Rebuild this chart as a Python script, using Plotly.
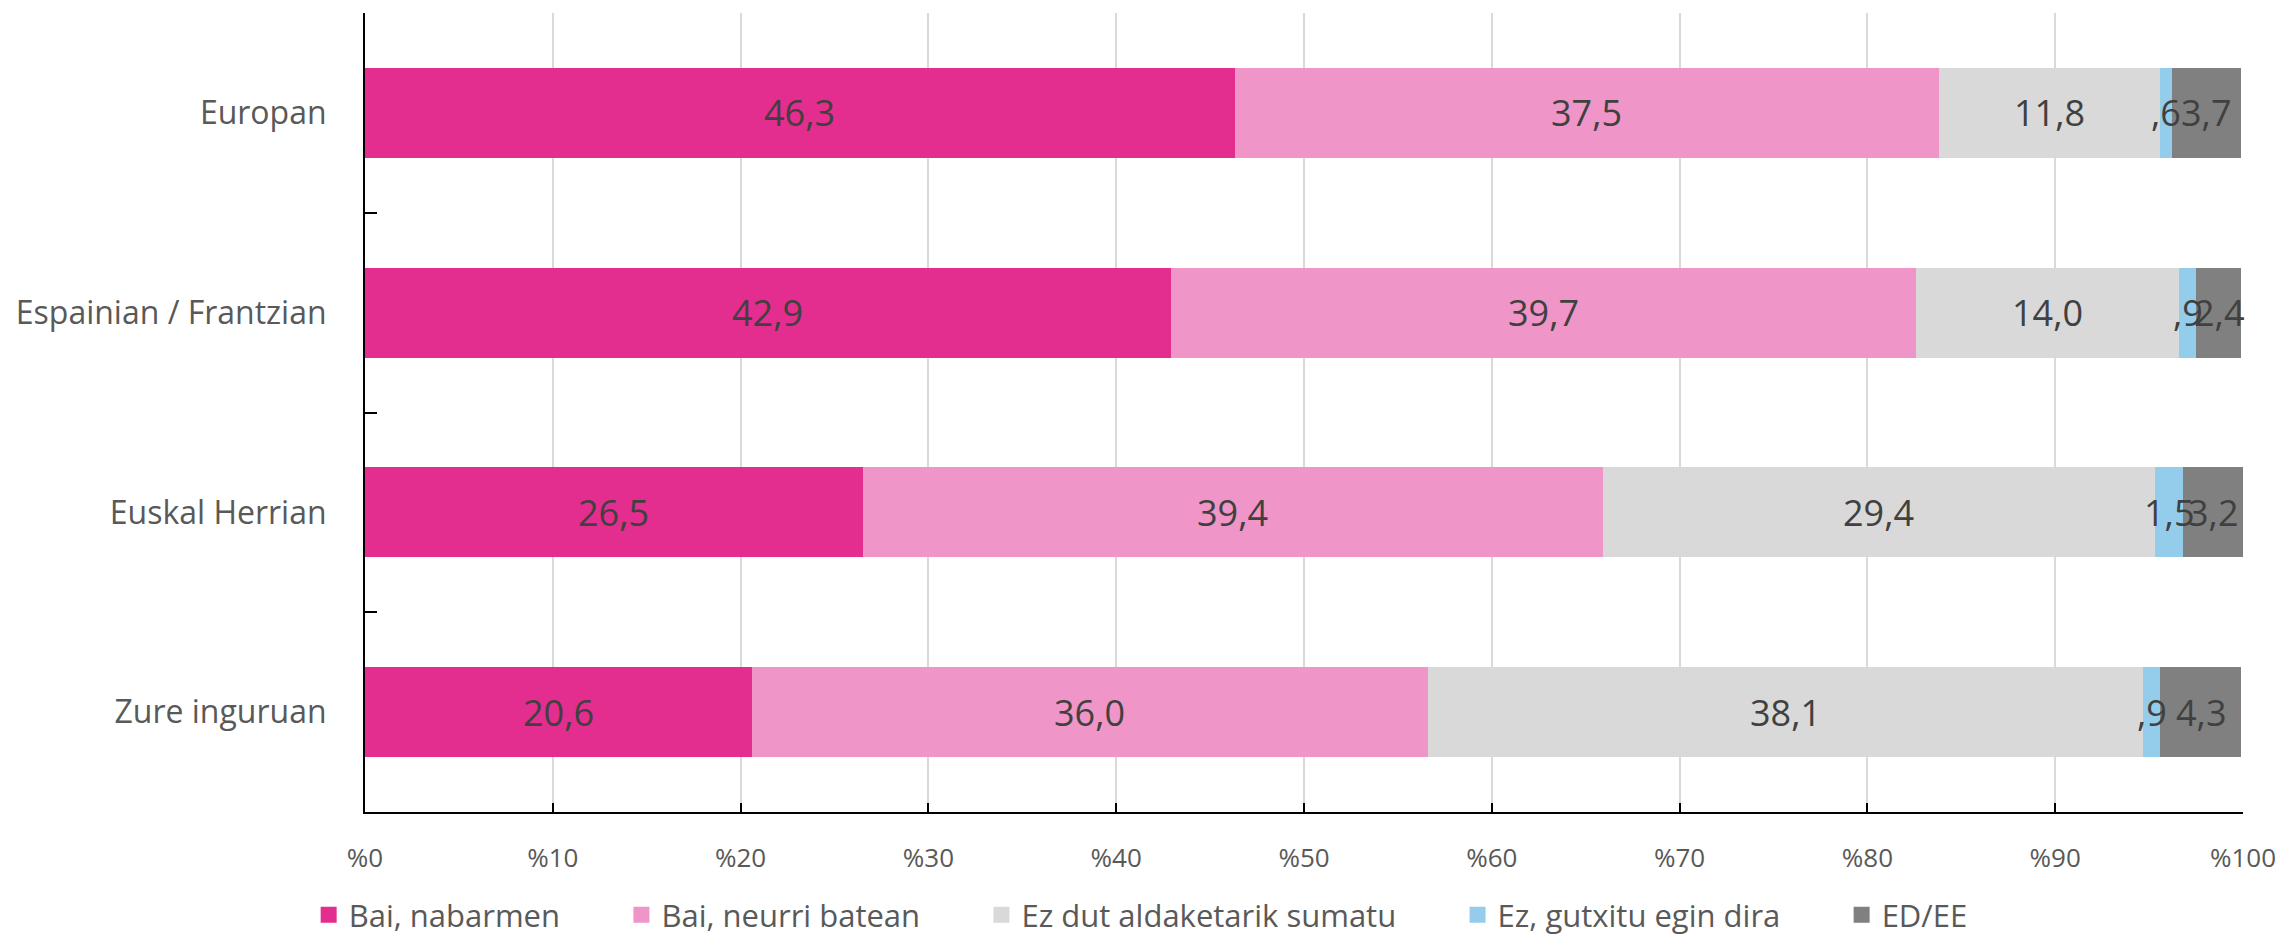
import plotly.graph_objects as go

# categories top to bottom
regions = ["Europan", "Espainian / Frantzian", "Euskal Herrian", "Zure inguruan"]

bai_nabarmen = [46.3, 42.9, 26.5, 20.6]
bai_neurri = [37.5, 39.7, 39.4, 36.0]
ez_aldaketa = [11.8, 14.0, 29.4, 38.1]
ez_gutxitu = [0.6, 0.9, 1.5, 0.9]
ed_ee = [3.7, 2.4, 3.2, 4.3]

series_names = ["Bai, nabarmen", "Bai, neurri batean", "Ez dut aldaketarik sumatu",
                "Ez, gutxitu egin dira", "ED/EE"]
colors = ["#E32D8F", "#F095C7", "#D9D9D9", "#93CDEB", "#808080"]

x_ticks = list(range(0, 101, 10))
x_labels = ["%" + str(t) for t in x_ticks]


def fmt(v):
    s = ("%.1f" % v).replace(".", ",")
    if s.startswith("0,"):
        s = s[1:]
    return s


font_main = "Open Sans"
pad = "\u00a0" * 7  # gap after each legend entry

fig = go.Figure()
all_series = [bai_nabarmen, bai_neurri, ez_aldaketa, ez_gutxitu, ed_ee]
for i, (name, vals, col) in enumerate(zip(series_names, all_series, colors)):
    fig.add_trace(go.Bar(
        y=regions, x=vals, name=name, orientation="h",
        marker=dict(color=col, line=dict(width=0)),
        hoverinfo="skip", showlegend=False,
    ))
    # legend-only entry so the swatch can be bigger
    fig.add_trace(go.Scatter(
        x=[None], y=[None], mode="markers",
        name=name + (pad if i < len(series_names) - 1 else ""),
        marker=dict(symbol="square", size=19, color=col),
        hoverinfo="skip",
    ))

# value labels centred in each segment, drawn on top of all bars
for j, reg in enumerate(regions):
    start = 0
    for vals in all_series:
        v = vals[j]
        fig.add_annotation(x=start + v / 2, y=reg, text=fmt(v), showarrow=False,
                           xref="x", yref="y",
                           font=dict(family=font_main, size=36, color="#404040"))
        start += v

# page body has an 8px margin, so the figure is a bit smaller than the window
fig.update_layout(
    barmode="stack", bargap=0.55,
    width=2277, height=931,
    margin=dict(l=357, r=42, t=5, b=127, autoexpand=False),
    plot_bgcolor="white", paper_bgcolor="white",
    font=dict(family=font_main, color="#595959"),
    legend=dict(orientation="h", x=-0.03, xanchor="left", y=-0.129, yanchor="middle",
                font=dict(size=31, color="#595959"), traceorder="normal"),
    showlegend=True,
)

fig.update_xaxes(
    range=[0, 100], tickvals=x_ticks, ticktext=x_labels,
    showgrid=True, gridcolor="#D9D9D9", gridwidth=1.5,
    showline=True, linecolor="black", linewidth=2,
    ticks="inside", ticklen=9, tickcolor="black", tickwidth=2,
    tickfont=dict(size=26, color="#595959"), ticklabelstandoff=22,
    zeroline=False,
)
fig.update_yaxes(
    categoryorder="array", categoryarray=regions, autorange="reversed",
    showline=True, linecolor="black", linewidth=2,
    ticks="inside", ticklen=12, tickcolor="black", tickwidth=2,
    tickson="boundaries", showgrid=False,
    tickfont=dict(size=32, color="#595959"), ticklabelstandoff=30,
)

fig.write_html("out.html")
